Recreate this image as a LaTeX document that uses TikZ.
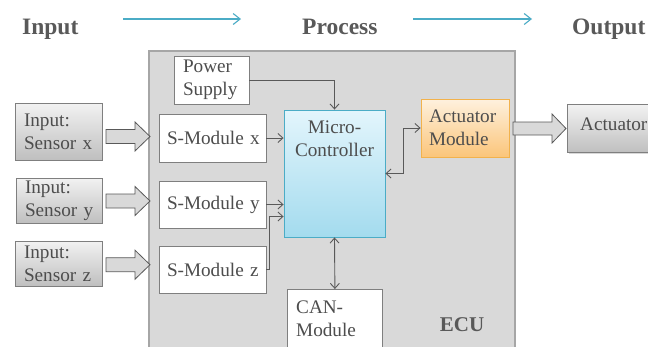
\documentclass[tikz,border=0pt]{standalone}
\usepackage{fontspec}
\setmainfont{Liberation Serif}
\usetikzlibrary{arrows.meta,shadows}
\definecolor{txt}{HTML}{4D4D4D}
\definecolor{titlec}{HTML}{595959}
\definecolor{linec}{HTML}{595959}
\definecolor{bordc}{HTML}{7F7F7F}
\definecolor{ecufill}{HTML}{D9D9D9}
\definecolor{eculine}{HTML}{A6A6A6}
\definecolor{flowc}{HTML}{4BACC6}
\definecolor{mctop}{HTML}{E3F5FC}
\definecolor{mcbot}{HTML}{A3DBEE}
\definecolor{mcline}{HTML}{4BACC6}
\definecolor{amtop}{HTML}{FEF1DE}
\definecolor{ambot}{HTML}{FBC57A}
\definecolor{amline}{HTML}{F2B24C}
\definecolor{grtop}{HTML}{F2F2F2}
\definecolor{grbot}{HTML}{BFBFBF}

% fat block arrow: from x, head start x, tip x, centre y, shaft half-height, head half-height
\newcommand\blockarr[6]{%
  \filldraw[blk] (#1,#4-#5) -- (#2,#4-#5) -- (#2,#4-#6) -- (#3,#4)
    -- (#2,#4+#6) -- (#2,#4+#5) -- (#1,#4+#5) -- cycle;}

\begin{document}
\begin{tikzpicture}[x=1pt,y=-1pt,
  every node/.style={text=txt, font=\fontsize{19.2}{23}\selectfont},
  >={Straight Barb[length=5pt,width=9pt]},
  title/.style={font=\fontsize{23.5}{26}\selectfont\bfseries, text=titlec, inner sep=0pt},
  flow/.style={draw=flowc, line width=1.1pt, -{Straight Barb[length=7pt,width=11pt]}},
  conn/.style={draw=linec, line width=0.9pt},
  blk/.style={fill=ecufill, draw=linec, line width=0.8pt},
  wbox/.style={draw=bordc, fill=white, line width=0.8pt, align=left, inner xsep=8pt, inner ysep=0pt},
  shade/.style={drop shadow={opacity=0.3, shadow xshift=1.2pt, shadow yshift=-1.2pt}},
  sensor/.style={wbox, top color=grtop, bottom color=grbot, inner xsep=9pt, shade},
  ecu/.style={fill=ecufill, draw=eculine, line width=1.5pt},
  micro/.style={draw=mcline, line width=0.9pt, top color=mctop, bottom color=mcbot, shade},
  actmod/.style={wbox, draw=amline, top color=amtop, bottom color=ambot, shade},
  lbl/.style={anchor=north west, inner sep=0pt, align=left}
]
\clip (0,0) rectangle (648,346);
\fill[white] (0,0) rectangle (648,346);

% headline row
\node[title, anchor=base west] (tin) at (22,34) {Input};
\node[title, anchor=base west] (tpr) at (302,34) {Process};
\node[title, anchor=base west] (tout) at (572,34) {Output};
\coordinate (f1a) at (123,19);
\coordinate (f1b) at (241,19);
\coordinate (f2a) at (413,19);
\coordinate (f2b) at (532,19);
\draw[flow] (f1a) -- (f1b);
\draw[flow] (f2a) -- (f2b);

% ECU housing
\node[ecu, anchor=north west, minimum width=366pt, minimum height=330pt] (ecu) at (148,50) {};
\node[font=\fontsize{21}{24}\selectfont\bfseries, text=titlec, inner sep=0pt] (ecut) at (462,325) {ECU};

% sensors
\node[sensor, text width=69pt, minimum height=57pt] (sx) at (58.5,131.5) {Input:\\\mbox{Sensor x}};
\node[sensor, text width=68pt, minimum height=45pt] (sy) at (59,200.5) {Input:\\\mbox{Sensor y}};
\node[sensor, text width=69pt, minimum height=45pt] (sz) at (58.5,263.5) {Input:\\\mbox{Sensor z}};

% blocks inside the ECU
\node[wbox, inner xsep=9pt, text width=57pt, minimum height=48pt] (ps) at (211.5,80) {Power\\Supply};
\node[wbox, text width=91pt, minimum height=48pt] (smx) at (212.5,138) {\mbox{S-Module x}};
\node[wbox, text width=91pt, minimum height=47pt] (smy) at (212.5,204.5) {\mbox{S-Module y}};
\node[wbox, text width=91pt, minimum height=47pt] (smz) at (212.5,269.5) {\mbox{S-Module z}};
\node[micro, minimum width=101pt, minimum height=127pt,
  label={[anchor=north, inner sep=0pt, align=center, yshift=-11.5pt]north:Micro-\\Controller}] (mc) at (334.5,173.5) {};
\node[actmod, text width=72pt, minimum height=58pt] (am) at (465,128) {\mbox{Actuator}\\Module};
\node[wbox, anchor=north west, minimum width=95pt, minimum height=80pt,
  label={[lbl, xshift=9pt, yshift=-12pt]north west:CAN-\\Module}] (can) at (287,289) {};

% actuator
\node[sensor, anchor=north west, minimum width=100pt, minimum height=48pt,
  label={[lbl, xshift=13pt, yshift=-13.5pt]north west:Actuator}] (act) at (567,104) {};

% fat arrows
\blockarr{106}{135}{150}{136.5}{7}{14.5}
\blockarr{106}{135}{150}{201}{7}{14.5}
\blockarr{106}{135}{150}{264.7}{7}{14.5}
\blockarr{513}{552}{566}{128.5}{6.5}{14.5}

% signal connectors
\draw[conn, ->] (ps.east) -| (mc.north);
\draw[conn, ->] (smx.east) -- (smx.east -| mc.west);
\draw[conn, ->] (smy.east) -- (smy.east -| mc.west);
\draw[conn, ->] (smz.east) -- ++(3,0) |- ([yshift=-43pt]mc.west);
\draw[conn, <->] (mc.east) -- ++(18,0) |- (am.west);
\draw[conn, <->] (mc.south) -- (can.north);
\end{tikzpicture}
\end{document}
